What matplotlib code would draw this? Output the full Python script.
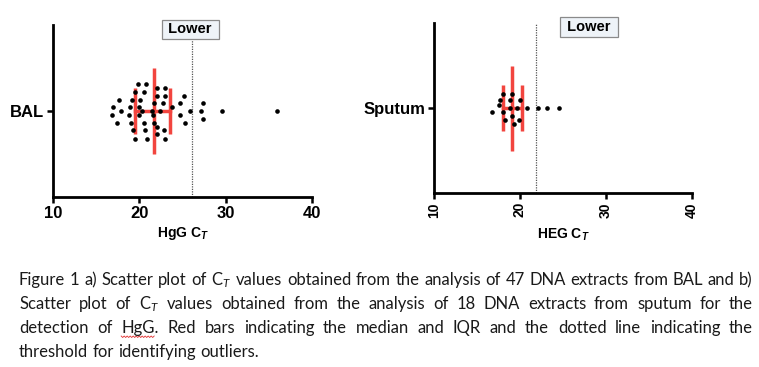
import matplotlib
matplotlib.use("Agg")
import matplotlib.pyplot as plt
import matplotlib.transforms as mtransforms

bal_ct = [19.8, 20.8, 19.5, 20.5, 22.1, 23.0, 22.1, 23.0, 17.7, 19.2,
          20.1, 25.2, 21.7, 22.7, 24.7, 27.4, 17.0, 18.9, 20.0, 23.8,
          17.9, 20.3, 21.5, 22.4, 25.9, 27.1, 29.6, 36.0, 16.8, 18.8,
          20.0, 21.6, 24.7, 27.4, 17.4, 19.0, 20.5, 21.7, 25.3, 22.0,
          19.3, 20.6, 22.9, 22.1, 19.5, 20.9, 23.0]
bal_offset = [0.31, 0.31, 0.22, 0.22, 0.27, 0.27, 0.18, 0.18, 0.13, 0.13,
              0.13, 0.18, 0.09, 0.09, 0.09, 0.09, 0.05, 0.05, 0.05, 0.05,
              0.0, 0.0, 0.0, 0.0, 0.0, 0.0, 0.0, 0.0, -0.05, -0.05,
              -0.05, -0.05, -0.05, -0.09, -0.14, -0.14, -0.14, -0.14, -0.14, -0.19,
              -0.22, -0.22, -0.22, -0.27, -0.32, -0.32, -0.32]
bal_median, bal_q1, bal_q3 = 21.7, 19.5, 23.6
bal_cutoff = 26.1

# Sputum: 18 Ct values
sputum_ct = [16.8, 17.5, 17.7, 18.0, 19.1, 18.8, 20.0, 18.0, 18.8, 19.7,
             20.8, 22.1, 23.1, 24.5, 19.1, 18.2, 19.9, 19.3]
sputum_offset = [-0.05, 0.04, 0.09, 0.17, 0.17, 0.09, 0.09, -0.05, 0.0, 0.0,
                 0.0, 0.0, 0.0, 0.0, -0.09, -0.14, -0.14, -0.19]
sputum_median, sputum_q1, sputum_q3 = 19.1, 18.0, 20.2
sputum_cutoff = 21.9

x_ticks = [10, 20, 30, 40]

caption_lines = [
    "Figure 1 a) Scatter plot of C$_T$ values obtained from the analysis of 47 DNA extracts from BAL and b)",
    "Scatter plot of C$_T$ values obtained from the analysis of 18 DNA extracts from sputum for the",
    "detection of HgG. Red bars indicating the median and IQR and the dotted line indicating the",
    "threshold for identifying outliers.",
]

plt.rcParams["font.family"] = ["Liberation Sans", "DejaVu Sans"]
plt.rcParams["mathtext.fontset"] = "custom"
plt.rcParams["mathtext.rm"] = "Lato"
plt.rcParams["mathtext.it"] = "Lato:italic"
plt.rcParams["mathtext.bf"] = "Liberation Sans:bold"
plt.rcParams["mathtext.bfit"] = "Liberation Sans:italic:bold"

W, H = 759, 367
fig = plt.figure(figsize=(W / 100, H / 100), dpi=100)

RED = "#f2453f"


def panel(rect, ct, offset, median, q1, q3, cutoff, name, xlabel, box_x, box_y, rotate):
    ax = fig.add_axes(rect)
    ax.set_xlim(10, 40)
    ax.set_ylim(-1, 1)
    for s in ["top", "right"]:
        ax.spines[s].set_visible(False)
    for s in ["left", "bottom"]:
        ax.spines[s].set_linewidth(2.0)
    ax.set_xticks(x_ticks)
    ax.set_yticks([0])
    ax.set_yticklabels([name], fontsize=12, fontweight="bold")
    ax.tick_params(axis="both", length=4.5, width=1.8, pad=2)
    if rotate:
        ax.set_xticklabels([str(t) for t in x_ticks], rotation=90,
                           fontsize=10, fontweight="bold")
        ax.set_xlabel(xlabel, fontsize=10, fontweight="bold", labelpad=7)
    else:
        ax.set_xticklabels([str(t) for t in x_ticks], fontsize=12, fontweight="bold")
        ax.set_xlabel(xlabel, fontsize=10, fontweight="bold", labelpad=3)

    ax.axvline(cutoff, color="#555555", lw=0.9, ls=(0, (1, 1)), zorder=1)
    # median and IQR bars
    ax.plot([median, median], [-0.5, 0.5], color=RED, lw=2.5, solid_capstyle="butt", zorder=2)
    ax.plot([q1, q1], [-0.265, 0.265], color=RED, lw=2.5, solid_capstyle="butt", zorder=2)
    ax.plot([q3, q3], [-0.265, 0.265], color=RED, lw=2.5, solid_capstyle="butt", zorder=2)
    ax.plot([q1, q3], [0, 0], color=RED, lw=2.5, zorder=2)
    ax.scatter(ct, offset, s=11, color="black", linewidths=0, zorder=3)

    trans = mtransforms.blended_transform_factory(ax.transData, ax.transAxes)
    ax.text(box_x, box_y, " Lower ", transform=trans, ha="center", va="center",
            fontsize=10.5, fontweight="bold", clip_on=False, zorder=5,
            bbox=dict(boxstyle="square,pad=0.2", fc="#eef3f8", ec="#8a8a8a", lw=0.9))
    return ax


panel([53 / W, 1 - 197 / H, 259 / W, 172 / H], bal_ct, bal_offset,
      bal_median, bal_q1, bal_q3, bal_cutoff, "BAL",
      r"HgG C$_{\mathbfit{T}}$", 25.9, 0.974, False)
panel([434 / W, 1 - 193 / H, 258 / W, 170 / H], sputum_ct, sputum_offset,
      sputum_median, sputum_q1, sputum_q3, sputum_cutoff, "Sputum",
      r"HEG C$_{\mathbfit{T}}$", 28.0, 0.975, True)

# caption, justified like the source document
renderer = fig.canvas.get_renderer()
x0, x1 = 19, 753
baselines = [285, 309, 333, 357]
cap_kw = dict(family=["Lato", "DejaVu Sans"], fontsize=12.0, color="#1a1a1a", va="baseline")
probe1 = fig.text(0, 0, "a b", **cap_kw)
probe2 = fig.text(0, 0, "ab", **cap_kw)
space_w = probe1.get_window_extent(renderer).width - probe2.get_window_extent(renderer).width
probe1.remove()
probe2.remove()

for i, (line, yb) in enumerate(zip(caption_lines, baselines)):
    words = line.split(" ")
    texts = [fig.text(0, 1 - yb / H, w, **cap_kw) for w in words]
    widths = [t.get_window_extent(renderer).width for t in texts]
    if i < len(caption_lines) - 1:
        gap = (x1 - x0 - sum(widths)) / (len(words) - 1)
    else:
        gap = space_w
    x = x0
    for t, w, word in zip(texts, widths, words):
        t.set_x(x / W)
        if word == "HgG.":
            # spell-check squiggle under HgG
            bb = t.get_window_extent(renderer)
            xs, ys = [], []
            k = 0
            px = bb.x0
            while px <= bb.x0 + bb.width - 4:
                xs.append(px / W)
                ys.append((H - yb - 3 - (k % 2) * 1.5) / H)
                px += 1.5
                k += 1
            fig.add_artist(plt.Line2D(xs, ys, color="#e03030", lw=0.6))
        x += w + gap

fig.savefig("out.png", dpi=100)
